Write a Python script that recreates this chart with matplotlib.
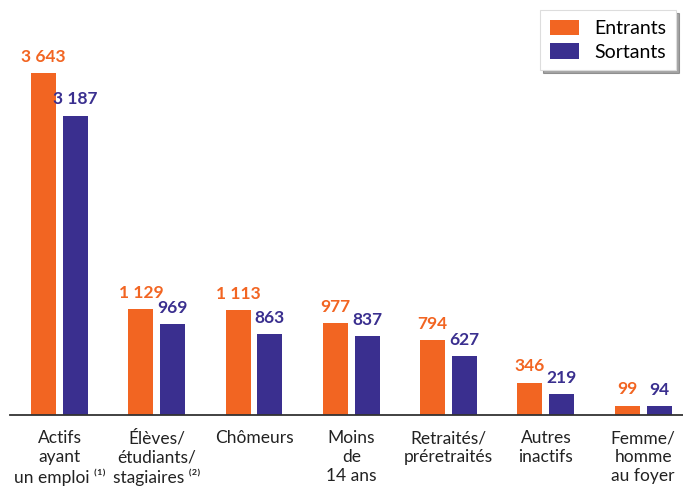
import numpy as np
import matplotlib.pyplot as plt

plt.rcParams['font.family'] = ['Lato', 'DejaVu Sans']

# Données
categories = ["Actifs\nayant\nun emploi ⁽¹⁾",
              "Élèves/\nétudiants/\nstagiaires ⁽²⁾",
              "Chômeurs",
              "Moins\nde\n14 ans",
              "Retraités/\npréretraités",
              "Autres\ninactifs",
              "Femme/\nhomme\nau foyer"]
entrants = [3643, 1129, 1113, 977, 794, 346, 99]
sortants = [3187, 969, 863, 837, 627, 219, 94]
series_names = ["Entrants", "Sortants"]

orange = '#F26522'
bleu = '#3A2F8F'

def fmt(v):
    return f"{v:,}".replace(",", " ")

fig = plt.figure(figsize=(6.83, 4.86), dpi=100)
ax = fig.add_axes([10/683, 71/486, 673/683, 415/486])

x = np.arange(len(categories))
w = 0.257
d = 0.164
b1 = ax.bar(x - d, entrants, w, color=orange, label=series_names[0])
b2 = ax.bar(x + d, sortants, w, color=bleu, label=series_names[1])

# Valeurs au-dessus des barres
for bars, vals, c in [(b1, entrants, orange), (b2, sortants, bleu)]:
    for r, v in zip(bars, vals):
        ax.annotate(fmt(v), (r.get_x() + r.get_width() / 2, v),
                    xytext=(0, 6), textcoords='offset points',
                    ha='center', va='bottom', fontsize=12.5,
                    fontweight='bold', color=c)

ax.set_xlim(-0.509, 6.41)
ax.set_ylim(0, 4420)
ax.set_yticks([])
ax.set_xticks(x)
ax.set_xticklabels(categories, fontsize=12.5, color='#222222', linespacing=1.22)
ax.tick_params(axis='x', length=0, pad=11)
for s in ['top', 'right', 'left']:
    ax.spines[s].set_visible(False)
ax.spines['bottom'].set_color('#333333')
ax.spines['bottom'].set_linewidth(1.3)

leg = ax.legend(loc='upper right', bbox_to_anchor=(1.0 - 7/673, 1.0 - 10/415),
                borderaxespad=0, fontsize=14, frameon=True, fancybox=False,
                shadow=True, handlelength=1.5, handleheight=0.85,
                borderpad=0.5, labelspacing=0.3, handletextpad=0.8)
leg.get_frame().set_edgecolor('#DDDDDD')
leg.get_frame().set_linewidth(0.8)

fig.savefig('out.png', dpi=100)
